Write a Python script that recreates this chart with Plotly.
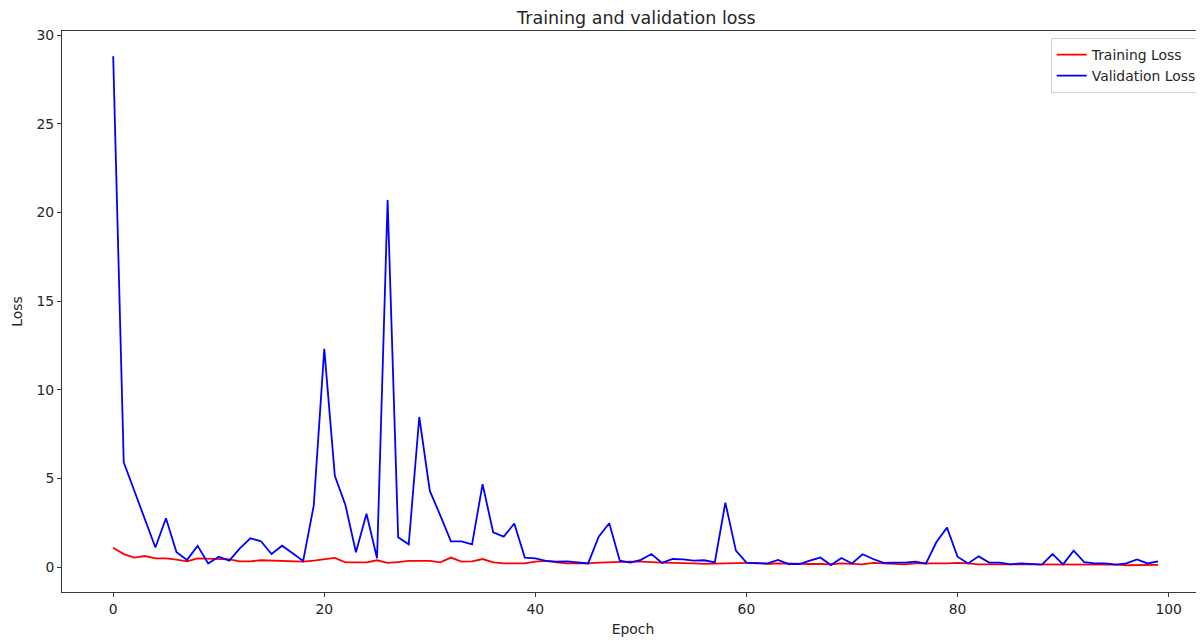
import plotly.graph_objects as go

epochs = list(range(100))

train_loss = [
    1.09, 0.73, 0.53, 0.62, 0.49, 0.49, 0.42, 0.32, 0.49, 0.47,
    0.45, 0.43, 0.32, 0.32, 0.38, 0.36, 0.36, 0.36, 0.30, 0.36,
    0.42, 0.51, 0.26, 0.26, 0.26, 0.38, 0.23, 0.28, 0.34, 0.34,
    0.34, 0.26, 0.53, 0.30, 0.32, 0.45, 0.26, 0.20, 0.20, 0.20,
    0.30, 0.34, 0.26, 0.20, 0.20, 0.20, 0.25, 0.28, 0.30, 0.30,
    0.30, 0.26, 0.25, 0.23, 0.23, 0.20, 0.18, 0.20, 0.18, 0.20,
    0.23, 0.23, 0.17, 0.20, 0.18, 0.17, 0.17, 0.17, 0.15, 0.20,
    0.16, 0.15, 0.23, 0.20, 0.20, 0.15, 0.20, 0.18, 0.20, 0.20,
    0.23, 0.20, 0.15, 0.15, 0.15, 0.15, 0.12, 0.13, 0.12, 0.15,
    0.13, 0.15, 0.15, 0.13, 0.12, 0.13, 0.10, 0.10, 0.10, 0.12,
]

val_loss = [
    28.8, 5.9, 4.3, 2.7, 1.1, 2.75, 0.83, 0.40, 1.19, 0.20,
    0.58, 0.36, 1.05, 1.62, 1.45, 0.73, 1.20, 0.77, 0.34, 3.46,
    12.3, 5.14, 3.5, 0.83, 3.0, 0.49, 20.7, 1.68, 1.28, 8.46,
    4.29, 2.9, 1.45, 1.45, 1.28, 4.67, 1.96, 1.71, 2.45, 0.53,
    0.49, 0.34, 0.30, 0.32, 0.26, 0.20, 1.71, 2.47, 0.36, 0.25,
    0.40, 0.73, 0.23, 0.45, 0.43, 0.36, 0.38, 0.26, 3.63, 0.92,
    0.25, 0.20, 0.20, 0.40, 0.17, 0.17, 0.36, 0.53, 0.11, 0.51,
    0.20, 0.72, 0.45, 0.23, 0.25, 0.25, 0.30, 0.19, 1.41, 2.22,
    0.58, 0.20, 0.60, 0.25, 0.25, 0.15, 0.20, 0.15, 0.13, 0.73,
    0.15, 0.92, 0.28, 0.20, 0.20, 0.13, 0.20, 0.43, 0.20, 0.32,
]

x_ticks = [0, 20, 40, 60, 80, 100]
y_ticks = [0, 5, 10, 15, 20, 25, 30]

FONT = "DejaVu Sans"
TXT = "#262626"
SPINE = "#3a3a3a"
FS = 13.9
W, H = 1196, 633  # page body has an 8px margin

fig = go.Figure()
fig.add_trace(go.Scatter(x=epochs, y=train_loss, mode="lines", name="Training Loss",
                         line=dict(color="#ff0000", width=1.8)))
fig.add_trace(go.Scatter(x=epochs, y=val_loss, mode="lines", name="Validation Loss",
                         line=dict(color="#0000ff", width=1.8)))

fig.update_layout(
    width=W, height=H,
    margin=dict(l=54, r=0, t=23, b=49, pad=0),
    paper_bgcolor="white", plot_bgcolor="white",
    font=dict(family=FONT, size=FS, color=TXT),
    title=dict(text="Training and validation loss", x=0.503, xref="paper",
               xanchor="center", y=1 - 10 / H, yanchor="middle",
               font=dict(family=FONT, size=17.5, color=TXT)),
    showlegend=True,
    legend=dict(x=0.998, y=0.9875, xanchor="right", yanchor="top",
                bgcolor="rgba(255,255,255,0.8)", bordercolor="#d0d0d0", borderwidth=1,
                font=dict(family=FONT, size=FS, color=TXT),
                tracegroupgap=0, itemwidth=30),
    xaxis=dict(range=[-4.85, 103.35], tickvals=x_ticks, ticktext=[str(v) for v in x_ticks],
               showgrid=False, zeroline=False, showline=True, linecolor=SPINE, linewidth=1,
               mirror=True, ticks="outside", ticklen=4, tickcolor=SPINE, tickwidth=1,
               automargin=False,
               title=dict(text="Epoch", font=dict(family=FONT, size=FS, color=TXT), standoff=8),
               tickfont=dict(family=FONT, size=FS, color=TXT)),
    yaxis=dict(range=[-1.41, 30.23], tickvals=y_ticks, ticktext=[str(v) for v in y_ticks],
               showgrid=False, zeroline=False, showline=True, linecolor=SPINE, linewidth=1,
               mirror=False, ticks="outside", ticklen=4, tickcolor=SPINE, tickwidth=1,
               automargin=False,
               title=dict(text="Loss", font=dict(family=FONT, size=FS, color=TXT), standoff=10),
               tickfont=dict(family=FONT, size=FS, color=TXT)),
)

fig.write_html("out.html")
